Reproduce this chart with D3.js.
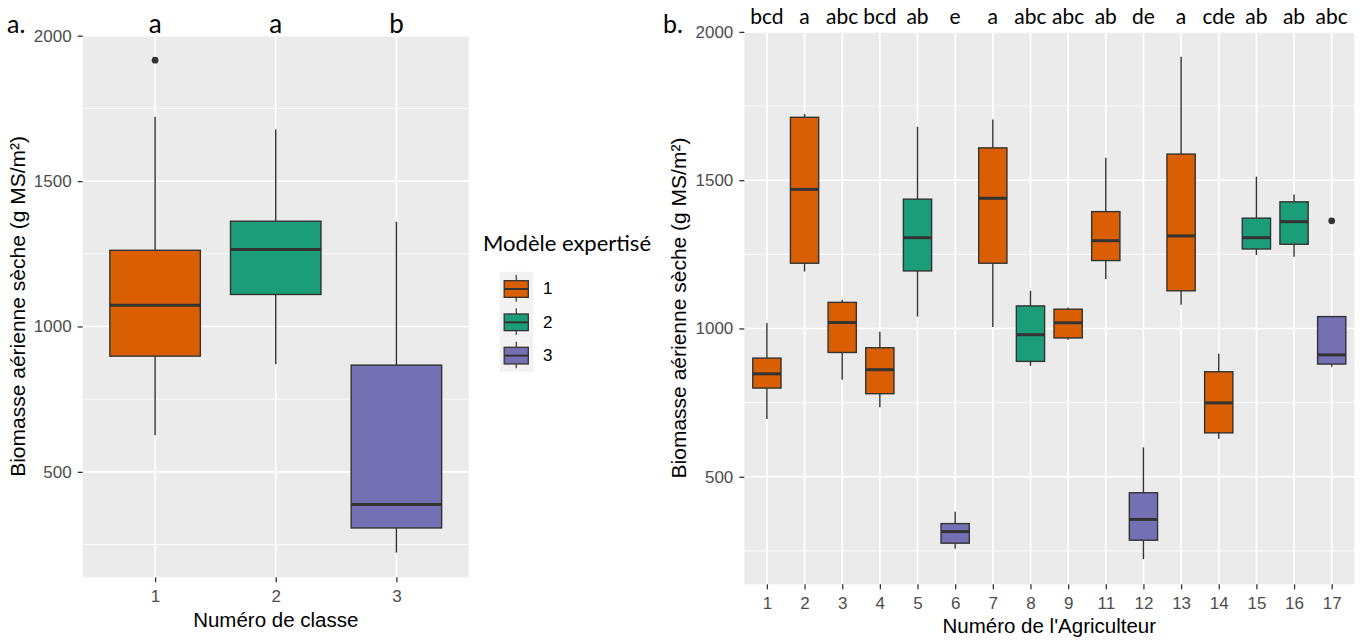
<!DOCTYPE html>
<html><head><meta charset="utf-8">
<script src="https://cdn.jsdelivr.net/npm/d3@7"></script>
<style>
html,body{margin:0;padding:0;background:#fff;}
svg{display:block;}
.ar{font-family:"Liberation Sans","Arimo",Arial,Helvetica,sans-serif;}
.cb{font-family:"Lato","Open Sans",sans-serif;}
</style></head>
<body>
<svg id="chart" width="1370" height="640"></svg>
<script>
// ---- Data: panel a (by class) ----
const classes = ["1", "2", "3"];
const classLow  = [626, 870, 222];
const classQ1   = [898, 1110, 307];
const classMed  = [1073, 1265, 388];
const classQ3   = [1262, 1362, 867];
const classHigh = [1721, 1677, 1360];
const classOutliers = [["1", 1916]];
const classLetters = ["a", "a", "b"];

// ---- Data: panel b (by farmer) ----
const farmers = ["1","2","3","4","5","6","7","8","9","11","12","13","14","15","16","17"];
const farmerModel = [1,1,1,1,2,3,1,2,1,1,3,1,1,2,2,3];
const farmerLow  = [695, 1192, 827, 734, 1040, 257, 1005, 874, 962, 1167, 222, 1080, 628, 1248, 1242, 871];
const farmerQ1   = [799, 1220, 919, 780, 1194, 276, 1220, 889, 968, 1229, 286, 1127, 648, 1268, 1284, 880];
const farmerMed  = [847, 1469, 1020, 861, 1306, 315, 1439, 979, 1019, 1296, 356, 1312, 749, 1306, 1360, 911];
const farmerQ3   = [900, 1712, 1088, 935, 1436, 342, 1609, 1076, 1065, 1394, 446, 1588, 854, 1372, 1427, 1040];
const farmerHigh = [1018, 1723, 1097, 989, 1680, 382, 1705, 1127, 1071, 1576, 599, 1916, 915, 1512, 1452, 1040];
const farmerOutliers = [["17", 1363]];
const farmerLetters = ["bcd","a","abc","bcd","ab","e","a","abc","abc","ab","de","a","cde","ab","ab","abc"];

const models = ["1", "2", "3"];
const modelColors = ["#D95F02", "#1B9E77", "#7570B3"];
const yTicks = [500, 1000, 1500, 2000];
const yMinor = [250, 750, 1250, 1750];

const yTitle = "Biomasse aérienne sèche (g MS/m²)";

const svg = d3.select("#chart");
const color = d3.scaleOrdinal().domain(models).range(modelColors);

// common y domain (ggplot 5% expansion)
const allVals = [].concat(classLow, classHigh, classOutliers.map(d => d[1]),
                          farmerLow, farmerHigh, farmerOutliers.map(d => d[1]));
const vmin = d3.min(allVals), vmax = d3.max(allVals);
const pad = (vmax - vmin) * 0.05;
const yDomain = [vmin - pad, vmax + pad];

function panel(opts) {
  const {x0, x1, y0, y1, cats, low, q1, med, q3, high, outliers, modelOf, letters, letterY, letterSize, xTitle, xTitleY, yTitleX, tag, tagX, tagY} = opts;
  const g = svg.append("g");
  const x = d3.scalePoint().domain(cats).range([x0, x1]).padding(0.6);
  const y = d3.scaleLinear().domain(yDomain).range([y1, y0]);
  const bw = x.step() * 0.75;

  g.append("rect").attr("x", x0).attr("y", y0).attr("width", x1 - x0).attr("height", y1 - y0).attr("fill", "#EBEBEB");
  g.selectAll(".minor").data(yMinor.filter(v => y(v) > y0 && y(v) < y1)).join("line")
    .attr("x1", x0).attr("x2", x1).attr("y1", d => y(d)).attr("y2", d => y(d))
    .attr("stroke", "#fff").attr("stroke-width", 0.8);
  g.selectAll(".major").data(yTicks).join("line")
    .attr("x1", x0).attr("x2", x1).attr("y1", d => y(d)).attr("y2", d => y(d))
    .attr("stroke", "#fff").attr("stroke-width", 1.6);
  g.selectAll(".vmajor").data(cats).join("line")
    .attr("x1", d => x(d)).attr("x2", d => x(d)).attr("y1", y0).attr("y2", y1)
    .attr("stroke", "#fff").attr("stroke-width", 1.6);

  const idx = d3.range(cats.length);
  const bx = g.selectAll(".box").data(idx).join("g");
  bx.append("line").attr("x1", i => x(cats[i])).attr("x2", i => x(cats[i]))
    .attr("y1", i => y(high[i])).attr("y2", i => y(q3[i])).attr("stroke", "#333").attr("stroke-width", 1.4);
  bx.append("line").attr("x1", i => x(cats[i])).attr("x2", i => x(cats[i]))
    .attr("y1", i => y(q1[i])).attr("y2", i => y(low[i])).attr("stroke", "#333").attr("stroke-width", 1.4);
  bx.append("rect").attr("x", i => x(cats[i]) - bw / 2).attr("width", bw)
    .attr("y", i => y(q3[i])).attr("height", i => y(q1[i]) - y(q3[i]))
    .attr("fill", i => color(modelOf(i))).attr("stroke", "#333").attr("stroke-width", 1.4);
  bx.append("line").attr("x1", i => x(cats[i]) - bw / 2).attr("x2", i => x(cats[i]) + bw / 2)
    .attr("y1", i => y(med[i])).attr("y2", i => y(med[i])).attr("stroke", "#333").attr("stroke-width", 3);
  g.selectAll(".out").data(outliers).join("circle")
    .attr("cx", d => x(d[0])).attr("cy", d => y(d[1])).attr("r", 3.4).attr("fill", "#333");

  const ya = g.append("g").attr("transform", `translate(${x0},0)`)
    .call(d3.axisLeft(y).tickValues(yTicks).tickFormat(d3.format("d")).tickSize(5).tickPadding(6));
  ya.attr("font-family", null).attr("font-size", null);
  ya.select(".domain").remove();
  ya.selectAll("line").attr("stroke", "#333").attr("stroke-width", 1.3);
  ya.selectAll("text").attr("class", "ar").attr("fill", "#4D4D4D").style("font-size", "17px");
  const xa = g.append("g").attr("transform", `translate(0,${y1})`)
    .call(d3.axisBottom(x).tickSize(5).tickPadding(8));
  xa.attr("font-family", null).attr("font-size", null);
  xa.select(".domain").remove();
  xa.selectAll("line").attr("stroke", "#333").attr("stroke-width", 1.3);
  xa.selectAll("text").attr("class", "ar").attr("fill", "#4D4D4D").style("font-size", "17px");

  g.append("text").attr("class", "ar").attr("x", (x0 + x1) / 2).attr("y", xTitleY).attr("text-anchor", "middle")
    .style("font-size", "20.5px").attr("fill", "#000").text(xTitle);
  g.append("text").attr("class", "ar").attr("transform", `translate(${yTitleX},${(y0 + y1) / 2}) rotate(-90)`).attr("text-anchor", "middle")
    .style("font-size", "21px").attr("fill", "#000").text(yTitle);

  g.selectAll(".let").data(idx).join("text").attr("class", "cb")
    .attr("x", i => x(cats[i])).attr("y", letterY).attr("text-anchor", "middle")
    .style("font-size", letterSize + "px").attr("fill", "#000")
    .text(i => letters[i]);
  g.append("text").attr("class", "cb").attr("x", tagX).attr("y", tagY)
    .style("font-size", "25px").attr("fill", "#000").text(tag);
}

panel({x0: 82.7, x1: 468.8, y0: 35.5, y1: 577.3, cats: classes,
  low: classLow, q1: classQ1, med: classMed, q3: classQ3, high: classHigh, outliers: classOutliers,
  modelOf: i => classes[i], letters: classLetters, letterY: 33, letterSize: 26,
  xTitle: "Numéro de classe", xTitleY: 627, yTitleX: 25, tag: "a.", tagX: 7, tagY: 33});

panel({x0: 744.3, x1: 1354.3, y0: 31.7, y1: 584.3, cats: farmers,
  low: farmerLow, q1: farmerQ1, med: farmerMed, q3: farmerQ3, high: farmerHigh, outliers: farmerOutliers,
  modelOf: i => String(farmerModel[i]), letters: farmerLetters, letterY: 24, letterSize: 21,
  xTitle: "Numéro de l'Agriculteur", xTitleY: 633, yTitleX: 686, tag: "b.", tagX: 663, tagY: 33});

const lg = svg.append("g");
lg.append("text").attr("class", "cb").attr("x", 483).attr("y", 251)
  .style("font-size", "22px").attr("fill", "#000").text("Modèle expertisé");
const kx = 499.5, ky = 271.7, kw = 33.5, kh = 33.3;
models.forEach((m, i) => {
  const top = ky + i * kh;
  lg.append("rect").attr("x", kx).attr("y", top).attr("width", kw).attr("height", kh).attr("fill", "#F2F2F2");
  const cx = kx + kw / 2;
  lg.append("line").attr("x1", cx).attr("x2", cx).attr("y1", top + kh * 0.1).attr("y2", top + kh * 0.9).attr("stroke", "#333").attr("stroke-width", 1.2);
  lg.append("rect").attr("x", kx + kw * 0.14).attr("y", top + kh * 0.27).attr("width", kw * 0.72).attr("height", kh * 0.5)
    .attr("fill", color(m)).attr("stroke", "#333").attr("stroke-width", 1.3);
  lg.append("line").attr("x1", kx + kw * 0.14).attr("x2", kx + kw * 0.86).attr("y1", top + kh * 0.52).attr("y2", top + kh * 0.52)
    .attr("stroke", "#333").attr("stroke-width", 2);
  lg.append("text").attr("class", "ar").attr("x", 543).attr("y", top + kh / 2).attr("dy", "0.35em")
    .style("font-size", "17px").attr("fill", "#000").text(m);
});
</script>
</body></html>
